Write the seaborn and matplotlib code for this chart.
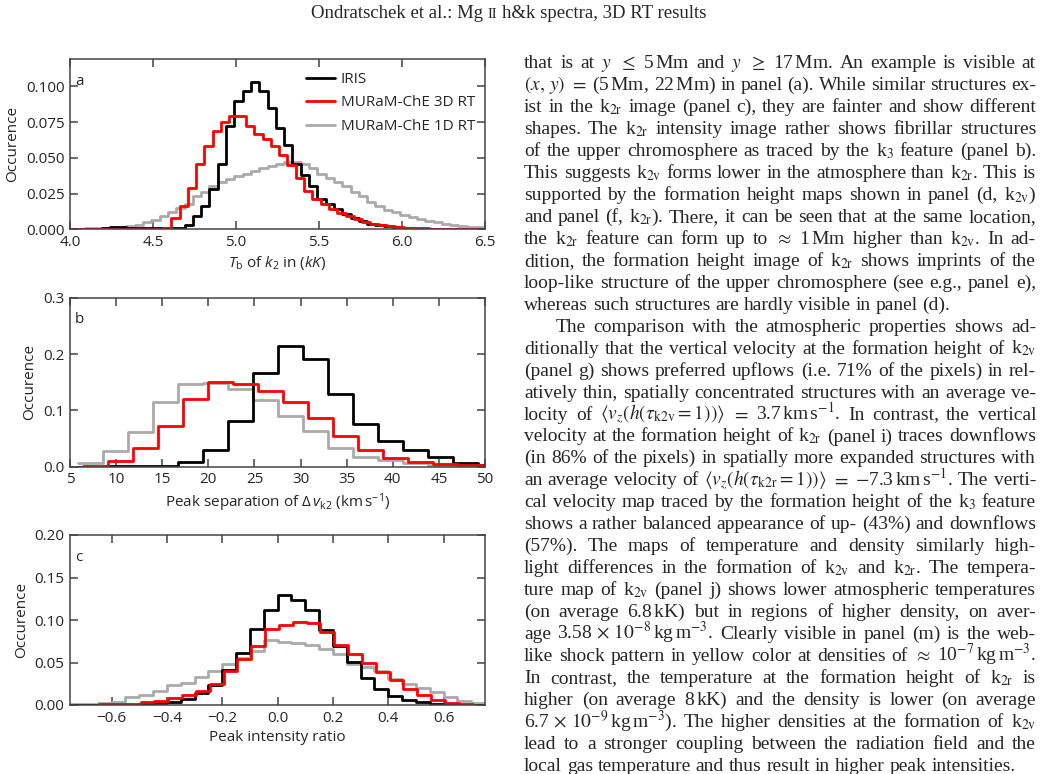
import numpy as np
import matplotlib
matplotlib.use("Agg")
import matplotlib.pyplot as plt
import seaborn as sns

# ---------------- data ----------------
# panel a: T_b of k2 in kK, occurrence per bin
a_bin = 0.05
a_start_iris = 3.99
a_start_3d = 3.96
a_start_1d = 3.99
a_iris = [0.0002, 0.0002, 0.0003, 0.0004, 0.0008, 0.0018, 0.0018, 0.0009, 0.0007, 0.0007,
          0.0007, 0.0007, 0.0008, 0.001, 0.003, 0.009, 0.016, 0.028, 0.046, 0.072,
          0.090, 0.097, 0.103, 0.097, 0.085, 0.071, 0.059, 0.046, 0.038, 0.030,
          0.0215, 0.018, 0.014, 0.011, 0.008, 0.006, 0.004, 0.003, 0.002, 0.0013,
          0.0008, 0.0004, 0.0002, 0, 0, 0, 0, 0, 0, 0]
a_3d = [0, 0, 0, 0, 0, 0, 0, 0, 0.0004, 0.0004,
        0.0004, 0.0005, 0.001, 0.008, 0.016, 0.029, 0.046, 0.058, 0.069, 0.075,
        0.079, 0.079, 0.072, 0.067, 0.063, 0.058, 0.052, 0.045, 0.036, 0.027,
        0.021, 0.0175, 0.0145, 0.0115, 0.009, 0.007, 0.005, 0.0038, 0.0028, 0.002,
        0.0015, 0.001, 0.0008, 0.0006, 0.0005, 0.0004, 0, 0, 0, 0]
a_1d = [0.0004, 0.0005, 0.0007, 0.0008, 0.001, 0.0013, 0.0018, 0.0025, 0.003, 0.005,
        0.0065, 0.009, 0.012, 0.015, 0.018, 0.023, 0.026, 0.030, 0.033, 0.035,
        0.037, 0.039, 0.041, 0.043, 0.044, 0.046, 0.047, 0.047, 0.046, 0.043,
        0.039, 0.036, 0.033, 0.030, 0.026, 0.023, 0.019, 0.016, 0.0135, 0.012,
        0.010, 0.0085, 0.007, 0.006, 0.005, 0.004, 0.003, 0.0025, 0.0015, 0.0013]

# panel b: peak separation in km/s
b_bin = 2.71
b_start_iris = 5.9
b_start_3d = 6.4
b_start_1d = 5.9
b_iris = [0.0, 0.0005, 0.001, 0.002, 0.008, 0.030, 0.081, 0.167, 0.214, 0.191,
          0.129, 0.075, 0.046, 0.030, 0.017, 0.006, 0.003]
b_3d = [0.002, 0.010, 0.033, 0.072, 0.120, 0.151, 0.147, 0.134, 0.114, 0.086,
        0.055, 0.030, 0.016, 0.009, 0.005, 0.003]
b_1d = [0.006, 0.028, 0.062, 0.114, 0.146, 0.148, 0.138, 0.118, 0.090, 0.063,
        0.033, 0.018, 0.012, 0.006, 0.003, 0.002, 0.001]

# panel c: peak intensity ratio
c_bin = 0.05
c_start_iris = -0.75
c_start_3d = -0.645
c_start_1d = -0.75
c_iris = [0, 0, 0.0005, 0.0005, 0.0005, 0.001, 0.002, 0.004, 0.007, 0.014,
          0.0235, 0.041, 0.061, 0.090, 0.112, 0.130, 0.124, 0.112, 0.088, 0.069,
          0.051, 0.032, 0.019, 0.011, 0.006, 0.003, 0.0015, 0.0008, 0.0003, 0]
c_3d = [0.001, 0.001, 0.001, 0.003, 0.005, 0.008, 0.012, 0.017, 0.025, 0.040,
        0.054, 0.070, 0.090, 0.094, 0.098, 0.096, 0.086, 0.071, 0.060, 0.050,
        0.039, 0.030, 0.019, 0.012, 0.006, 0.002, 0.001]
c_1d = [0.001, 0.001, 0.002, 0.004, 0.009, 0.012, 0.017, 0.023, 0.026, 0.033,
        0.040, 0.048, 0.055, 0.063, 0.077, 0.074, 0.073, 0.071, 0.066, 0.060,
        0.048, 0.045, 0.040, 0.031, 0.025, 0.020, 0.015, 0.009, 0.005, 0.002]

series_names = ["IRIS", "MURaM-ChE 3D RT", "MURaM-ChE 1D RT"]
series_colors = ["black", "#ff0000", "#aaaaaa"]

header_parts = ["Ondratschek et al.: Mg", "II", "h&k spectra, 3D RT results"]

body_lines = [
    r"that is at $y$ $\leq$ 5$\,$Mm and $y$ $\geq$ 17$\,$Mm. An example is visible at",
    r"$(x,\,y)$ $=$ (5$\,$Mm, 22$\,$Mm) in panel (a). While similar structures ex-",
    r"ist in the k$_\mathrm{2r}$ image (panel c), they are fainter and show different",
    r"shapes. The k$_\mathrm{2r}$ intensity image rather shows fibrillar structures",
    r"of the upper chromosphere as traced by the k$_3$ feature (panel b).",
    r"This suggests k$_\mathrm{2v}$ forms lower in the atmosphere than k$_\mathrm{2r}$. This is",
    r"supported by the formation height maps shown in panel (d, k$_\mathrm{2v}$)",
    r"and panel (f, k$_\mathrm{2r}$). There, it can be seen that at the same location,",
    r"the k$_\mathrm{2r}$ feature can form up to $\approx$ 1$\,$Mm higher than k$_\mathrm{2v}$. In ad-",
    r"dition, the formation height image of k$_\mathrm{2r}$ shows imprints of the",
    r"loop-like structure of the upper chromosphere (see e.g., panel e),",
    r"whereas such structures are hardly visible in panel (d).",
    r"The comparison with the atmospheric properties shows ad-",
    r"ditionally that the vertical velocity at the formation height of k$_\mathrm{2v}$",
    r"(panel g) shows preferred upflows (i.e. 71% of the pixels) in rel-",
    r"atively thin, spatially concentrated structures with an average ve-",
    r"locity of $\langle v_z(h(\tau_\mathrm{k2v} = 1))\rangle$ $=$ 3.7$\,$km$\,$s$^{-1}$. In contrast, the vertical",
    r"velocity at the formation height of k$_\mathrm{2r}$ (panel i) traces downflows",
    r"(in 86% of the pixels) in spatially more expanded structures with",
    r"an average velocity of $\langle v_z(h(\tau_\mathrm{k2r} = 1))\rangle$ $=$ $-$7.3$\,$km$\,$s$^{-1}$. The verti-",
    r"cal velocity map traced by the formation height of the k$_3$ feature",
    r"shows a rather balanced appearance of up- (43%) and downflows",
    r"(57%). The maps of temperature and density similarly high-",
    r"light differences in the formation of k$_\mathrm{2v}$ and k$_\mathrm{2r}$. The tempera-",
    r"ture map of k$_\mathrm{2v}$ (panel j) shows lower atmospheric temperatures",
    r"(on average 6.8$\,$kK) but in regions of higher density, on aver-",
    r"age 3.58$\,\times\,10^{-8}\,$kg$\,$m$^{-3}$. Clearly visible in panel (m) is the web-",
    r"like shock pattern in yellow color at densities of $\approx$ 10$^{-7}\,$kg$\,$m$^{-3}$.",
    r"In contrast, the temperature at the formation height of k$_\mathrm{2r}$ is",
    r"higher (on average 8$\,$kK) and the density is lower (on average",
    r"6.7$\,\times\,10^{-9}\,$kg$\,$m$^{-3}$). The higher densities at the formation of k$_\mathrm{2v}$",
    r"lead to a stronger coupling between the radiation field and the",
    r"local gas temperature and thus result in higher peak intensities.",
]
paragraph_ends = [11, 32]
paragraph_starts = [12]

# ---------------- style ----------------
W, H = 1046, 774
sns.set_style("ticks")
plt.rcParams["font.family"] = ["Open Sans", "DejaVu Sans"]
plt.rcParams["mathtext.fontset"] = "custom"
plt.rcParams["mathtext.rm"] = "Open Sans"
plt.rcParams["mathtext.it"] = "Open Sans:italic"
plt.rcParams["mathtext.bf"] = "Open Sans:bold"
plt.rcParams["axes.unicode_minus"] = True

FRAME = "#444444"
BODY_FONT = ["Liberation Serif", "DejaVu Serif"]
BODY_SIZE = 14.0
HEAD_SIZE = 13.5

fig = plt.figure(figsize=(W / 100, H / 100), dpi=100)
fig.patch.set_facecolor("white")


def px_axes(left, top, right, bottom):
    return fig.add_axes([left / W, 1 - bottom / H, (right - left) / W, (bottom - top) / H])


def draw_hist(ax, start, width, values, color, label):
    values = np.asarray(values, dtype=float)
    edges = start + width * np.arange(len(values) + 1)
    centers = edges[:-1] + width / 2
    sns.histplot(x=centers, weights=values, bins=edges.tolist(), element="step", fill=False,
                 color=color, linewidth=2.0, ax=ax)
    ax.lines[-1].set_label(label)


def fmt(v, spec):
    return format(v, spec).replace("-", "\u2212")


def style(ax, xlim, ylim, xticks, xspec, yticks, yspec, letter, xlabel):
    ax.set_xlim(*xlim)
    ax.set_ylim(*ylim)
    ax.set_xticks(xticks, [fmt(v, xspec) for v in xticks])
    ax.set_yticks(yticks, [fmt(v, yspec) for v in yticks])
    ax.tick_params(direction="in", length=5.5, width=1.1, color=FRAME, top=True, right=True,
                   labelsize=11, pad=4)
    for sp in ax.spines.values():
        sp.set_color(FRAME)
        sp.set_linewidth(1.1)
        sp.set_visible(True)
    ax.set_xlabel(xlabel, fontsize=11, labelpad=3)
    ax.set_ylabel("Occurence", fontsize=11)
    ax.text(0.012, 0.87, letter, transform=ax.transAxes, fontsize=11, ha="left", va="center")


panels = [
    ((70, 59.3, 485, 229.3),
     [(a_start_1d, a_bin, a_1d), (a_start_iris, a_bin, a_iris), (a_start_3d, a_bin, a_3d)],
     dict(xlim=(4.0, 6.5), ylim=(0, 0.119), xticks=[4.0, 4.5, 5.0, 5.5, 6.0, 6.5], xspec=".1f",
          yticks=[0, 0.025, 0.05, 0.075, 0.1], yspec=".3f", letter="a",
          xlabel=r"$T_\mathrm{b}$ of $k_2$ in $(kK)$")),
    ((70, 297.7, 485, 466.7),
     [(b_start_1d, b_bin, b_1d), (b_start_iris, b_bin, b_iris), (b_start_3d, b_bin, b_3d)],
     dict(xlim=(5, 50), ylim=(0, 0.3), xticks=list(range(5, 51, 5)), xspec="d",
          yticks=[0, 0.1, 0.2, 0.3], yspec=".1f", letter="b",
          xlabel=r"Peak separation of $\Delta\,v_\mathrm{k2}$ (km$\,$s$^{-1}$)")),
    ((70, 535, 485, 705),
     [(c_start_1d, c_bin, c_1d), (c_start_iris, c_bin, c_iris), (c_start_3d, c_bin, c_3d)],
     dict(xlim=(-0.75, 0.75), ylim=(0, 0.2), xticks=[-0.6, -0.4, -0.2, 0.0, 0.2, 0.4, 0.6],
          xspec=".1f", yticks=[0, 0.05, 0.1, 0.15, 0.2], yspec=".2f", letter="c",
          xlabel="Peak intensity ratio")),
]

draw_order = [2, 0, 1]  # 1D below, IRIS, 3D on top
for box, series, opts in panels:
    ax = px_axes(*box)
    for k, (start, width, vals) in enumerate(series):
        idx = draw_order[k]
        draw_hist(ax, start, width, vals, series_colors[idx], series_names[idx])
    style(ax, **opts)
    if opts["letter"] == "a":
        handles = {l.get_label(): l for l in ax.lines}
        ax.legend([handles[n] for n in series_names], series_names, loc="upper left",
                  bbox_to_anchor=(0.568, 0.925), borderaxespad=0, borderpad=0,
                  handlelength=1.9, handletextpad=0.4, labelspacing=0.55,
                  frameon=False, fontsize=11)

# ---------------- page text ----------------
renderer = fig.canvas.get_renderer()


def split_words(line):
    words, cur, in_math = [], "", False
    for ch in line:
        if ch == "$":
            in_math = not in_math
        if ch == " " and not in_math:
            if cur:
                words.append(cur)
            cur = ""
        else:
            cur += ch
    if cur:
        words.append(cur)
    return words


def place_words(words, sizes, y_base, x_left, x_right, justify, space):
    arts = [fig.text(0, 1 - y_base / H, w, fontsize=s, family=BODY_FONT,
                     math_fontfamily="stix", va="baseline", ha="left")
            for w, s in zip(words, sizes)]
    widths = [a.get_window_extent(renderer).width for a in arts]
    if justify and len(arts) > 1:
        gap = (x_right - x_left - sum(widths)) / (len(arts) - 1)
    else:
        gap = space
    x = x_left
    for a, w in zip(arts, widths):
        a.set_x(x / W)
        x += w + gap
    return x - gap


space_px = BODY_SIZE * 100 / 72 * 0.25
TEXT_LEFT, TEXT_RIGHT = 524, 1036
BASE0, LEAD = 68.3, 21.95
for i, line in enumerate(body_lines):
    words = split_words(line)
    left = TEXT_LEFT + (32 if i in paragraph_starts else 0)
    place_words(words, [BODY_SIZE] * len(words), BASE0 + i * LEAD, left, TEXT_RIGHT,
                i not in paragraph_ends, space_px)

# running header, centred, with small-caps "II"
hsizes = [HEAD_SIZE, HEAD_SIZE * 0.75, HEAD_SIZE]
hspace = HEAD_SIZE * 100 / 72 * 0.25
tmp = [fig.text(0, 0, p, fontsize=s, family=BODY_FONT) for p, s in zip(header_parts, hsizes)]
hw = sum(t.get_window_extent(renderer).width for t in tmp) + 2 * hspace
for t in tmp:
    t.remove()
place_words(header_parts, hsizes, 18.0, 508.5 - hw / 2, 0, False, hspace)

fig.savefig("out.png", dpi=100)
